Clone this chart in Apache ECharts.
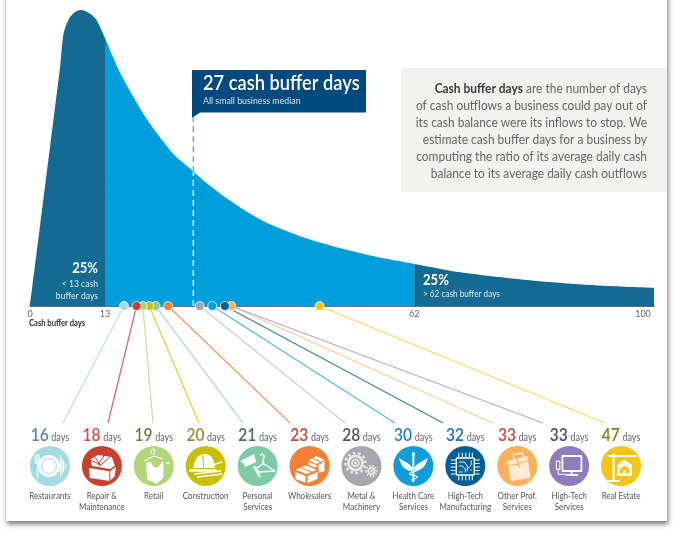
<!DOCTYPE html>
<html>
<head>
<meta charset="utf-8">
<style>html,body{margin:0;padding:0;background:#fff}#main{width:673px;height:533px}</style>
<script src="https://cdn.jsdelivr.net/npm/echarts@6/dist/echarts.min.js"></script>
</head>
<body>
<div id="main"></div>
<script>
// values
var axisStart = 1.11  // the "0" tick sits here, the original axis is squeezed below 13 days
var tickDays = [axisStart, 13, 62, 100]
var tickLabels = ['0', '13', '62', '100']
var lowerQuartile = 13
var upperQuartile = 62
var medianDays = 27

var curveDays = [1.11, 2.7, 4.3, 5.87, 6.34, 6.66, 6.98, 7.45, 7.85, 8.25, 8.7, 9.2, 9.7, 10.15, 10.94, 11.73, 12.37, 13,
  14.27, 15.5, 17.44, 19.5, 21.7, 24, 26.8, 29, 31.2, 35, 38.7, 44, 50.2, 56, 62, 69, 76.7, 84, 92, 100]
var curveHeights = [0, 27, 54, 80.7, 90.9, 93.9, 95.6, 97.6, 98.6, 99.3, 99.8, 100, 99.8, 99.3, 98.3, 96.4, 93.5, 90.5,
  84, 78.3, 70.8, 63.5, 57, 51, 45.8, 41.7, 38, 32.5, 28, 23.5, 19.6, 16.6, 14.2, 11.5, 9.5, 8, 6.8, 6.1]

var industries = ['Restaurants', 'Repair &\nMaintenance', 'Retail', 'Construction', 'Personal\nServices', 'Wholesalers',
  'Metal &\nMachinery', 'Health Care\nServices', 'High-Tech\nManufacturing', 'Other Prof.\nServices', 'High-Tech\nServices', 'Real Estate']
var industryDays = [16, 18, 19, 20, 21, 23, 28, 30, 32, 33, 33, 47]

// styles, same order as the industries
var iconColors = ['#A3DBE0', '#C9402F', '#B1D678', '#C9BF00', '#7FCBA6', '#F77F33', '#A7A8AA', '#0F9DDC', '#005F96', '#FBB05C', '#8E7CBC', '#F5C415']
var leaderColors = ['#B5E2E6', '#D4705F', '#C9E29F', '#DDD43F', '#B4E0CA', '#F79B68', '#CFCFCF', '#58B8E6', '#3C86B2', '#FBCB94', '#B6A9D6', '#F7D862']
var numberColors = ['#4E87A0', '#D0503F', '#6F7A3A', '#A08A3A', '#3F6F63', '#CE4536', '#555555', '#1F7FB8', '#1F6FA8', '#CE4536', '#4A4680', '#8E7A1E']
var leaderEndX = [63, 108, 153, 199, 243, 290, 345, 395, 443, 493, 543, 605]
var leaderEndY = 423

var FONT = 'Lato, "Open Sans", sans-serif'
var DARK = '#136A92', LIGHT = '#009FDB', NAVY = '#004A80'

var curve = curveDays.map(function (d, i) { return [d, curveHeights[i]] })
var medianHeight = 45.2

function region(from, to, color) {
  return {
    type: 'line', data: curve.filter(function (p) { return p[0] >= from && p[0] <= to }),
    showSymbol: false, silent: true, smooth: 0.25, lineStyle: { width: 0 },
    areaStyle: { color: color, opacity: 1 }, itemStyle: { color: color }
  }
}

function dashed(pts, color) {
  return {
    type: 'line', data: pts, showSymbol: false, silent: true, z: 3,
    lineStyle: { color: color, width: 1.5, type: [6, 4] }
  }
}

// condensed look, the original typeface is narrower than anything installed
function note(text, x, y, size, fill, squeeze, extra) {
  var style = { text: text, fill: fill, fontFamily: FONT, fontSize: size }
  for (var k in extra) style[k] = extra[k]
  return { type: 'text', x: x, y: y, z: 6, scaleX: squeeze, style: style }
}

// icon glyphs, drawn in a 40x40 box centred on the circle
function P(d, fill, stroke, w, dash) { return { d: d, fill: fill || 'none', stroke: stroke || 'none', w: w || 0, dash: dash } }
function circ(x, y, r) { return 'M' + (x - r) + ' ' + y + 'a' + r + ' ' + r + ' 0 1 0 ' + (2 * r) + ' 0a' + r + ' ' + r + ' 0 1 0 ' + (-2 * r) + ' 0Z' }
var W = '#fff'
var glyphs = [
  [P(circ(19, 20, 11), W), P(circ(19, 20, 7.5), null, iconColors[0], 1), P('M7.5 19v13M5.5 9v7c0 2 4 2 4 0V9M7.5 9v6', null, W, 1.4),
    P('M30 9l7 11-7 11Z', W), P('M32 12v16M34.5 16v8', null, iconColors[0], .8)],
  [P('M7 22l21 3 6-4-1 9-5 5-20-3Z', W), P('M9 13l7-4 14 2 3 9-5 3-18-3Z', W),
    P('M8 21l20 4v10M13 11l6 9M22 10l-6 9M20 18l9-8M11 15l8 4', null, iconColors[1], 1)],
  [P('M12.7 16.7l4-1 3 5 4 1 5-6 1 1v14l-1 2-6 5-9-4-1-10Z', W), P('M18 7c-2-3 2-5 3-3s-2 3-1 6M11 15l9-5 9 3', null, W, 1.1), P(circ(34, 17, 1.6), W)],
  [P('M8 22c0-8 4-14 11-14s10 6 10 14Z', W), P('M4.5 24.5h25', null, W, 2.6), P('M9 28l26-3M12 31l24-3M27 19l9-3', null, W, 1.6),
    P('M17 9l1 12', null, iconColors[3], 1)],
  [P('M2.5 15l14-7 2 8-11 5-1-3Z', W), P('M17 21l5 9', null, W, 2.4), P('M23 9c2-2 5 1 3 3l-1 5 12 8-15 1-4-3 8-6', null, W, 1.5)],
  [P('M6 24l10-5 11 5-10 4Z M6 26l10 4v7l-10-4Z M18 30l10-4v7l-10 4Z M19 14l8-4 8 4-8 4Z M29 19l6-4v10l-6 2Z M19 16l8 3v3l-8-3Z', W),
    P('M12 22l10 4M23 12l8 4', null, iconColors[5], 1)],
  [P(circ(14, 17, 8.5), '#E8E8E8'), P(circ(14, 17, 10), null, '#E8E8E8', 2.6, [2.6, 2.6]), P(circ(14, 17, 5), null, iconColors[6], 1.3), P(circ(14, 17, 2), null, iconColors[6], 1),
    P(circ(30, 25, 4.2), '#E8E8E8'), P(circ(30, 25, 5.4), null, '#E8E8E8', 1.6, [1.6, 1.6]), P(circ(30, 25, 1.8), null, iconColors[6], .9)],
  [P('M19 9h2v27h-2Z', W), P(circ(20, 8, 1.8), W), P('M18.5 21C15 16 9 15 5.5 11.5 7 18 10 24 18.5 25.5Z M21.5 21C25 16 31 15 34.5 11.5 33 18 30 24 21.5 25.5Z', W),
    P('M14 20c4 3 9 2 12 3-2 3-9 2-10 5 3 2 8 1 8 3-1 2-5 2-6 3', null, W, 1.1)],
  [P('M12 12h16a1 1 0 0 1 1 1v15a1 1 0 0 1-1 1H12a1 1 0 0 1-1-1V13a1 1 0 0 1 1-1Z', null, W, 1.4),
    P('M13.5 7v4M17 7v4M20.5 7v4M24 7v4M27 7v4M13.5 30v4M17 30v4M20.5 30v4M24 30v4M27 30v4M6 14h4M6 17.5h4M6 21h4M6 24.5h4M6 28h4M30 14h4M30 17.5h4M30 21h4M30 24.5h4M30 28h4', null, W, 1),
    P('M14 16h5l3 4v5M26 15v4l-3 3M14 20h3l3 3v3M14 26h3M26 24h-1', null, W, .9)],
  [P('M10 15l20-5 3.5 22L13.5 35Z', '#FFEBD4'), P('M17 13l-1-4 9-2 1.5 4', null, '#FFEBD4', 1.5),
    P('M10.5 20l20-5M20 13l2 8', null, iconColors[9], 1.2)],
  [P('M13.3 10h19v15h-19Z', null, W, 1.8), P('M22.5 25v3.5M17.5 29h10.5', null, W, 1.9), P('M7.3 15h3.4v8.3H7.3Z', null, W, 1.1), P('M9 23.3v5h7', null, W, 1)],
  [P('M7.5 10h27M12.5 8v27M7.5 35h10', null, W, 2.2), P('M16 19l7.5-5.5L31 19v11H16Z', W), P('M19 23l4.5-3.5L28 23v4.5h-9Z', iconColors[11]), P('M22 24h3v3.5h-3Z', W)]
]

var dayLabelRich = { d: { fontFamily: FONT, fontSize: 10.5, fill: '#666', padding: [5, 0, 0, 0] } }
industries.forEach(function (n, i) {
  dayLabelRich['n' + i] = { fontFamily: FONT, fontSize: 18, fontWeight: 600, fill: numberColors[i] }
})

var chart = echarts.init(document.getElementById('main'))

chart.setOption({
  animation: false,
  backgroundColor: '#fff',
  grid: [
    { left: 30, top: 10, width: 624, height: 296 },
    { left: 24, top: 446, width: 623, height: 40 }
  ],
  xAxis: [
    {
      type: 'value', gridIndex: 0, min: axisStart, max: 100, splitLine: { show: false },
      axisLine: { lineStyle: { color: '#3F3F3F', width: 1.5 } },
      axisTick: { show: false },
      axisLabel: {
        customValues: tickDays, color: '#666', fontSize: 9, fontFamily: FONT, margin: 4,
        formatter: function (v) {
          var label = tickLabels[tickDays.indexOf(v)]
          return label === '100' ? '{r|100}' : label
        },
        rich: { r: { color: '#666', fontSize: 9, fontFamily: FONT, padding: [0, 22, 0, 0] } }
      }
    },
    { type: 'category', gridIndex: 1, data: industries, show: false }
  ],
  yAxis: [
    { type: 'value', gridIndex: 0, min: 0, max: 100, show: false },
    { type: 'value', gridIndex: 1, min: 0, max: 1, show: false }
  ],
  series: [
    region(axisStart, lowerQuartile, DARK),
    region(lowerQuartile, upperQuartile, LIGHT),
    region(upperQuartile, 100, DARK),
    dashed([[medianDays, 0], [medianDays, medianHeight]], '#fff'),
    dashed([[medianDays, medianHeight], [medianDays, 63.5]], '#5BAFD6'),
    {
      // leader lines from each dot down to its industry
      type: 'custom', coordinateSystem: 'cartesian2d', silent: true, z: 4,
      clip: false,
      data: industryDays.map(function (d, i) { return [d, i] }),
      renderItem: function (params, api) {
        var s = api.coord([api.value(0), 0])
        var i = api.value(1)
        return {
          type: 'line',
          shape: { x1: s[0], y1: s[1], x2: leaderEndX[i], y2: leaderEndY },
          style: { stroke: leaderColors[i], lineWidth: 1.3 }
        }
      }
    },
    {
      // reversed so the orange 33 sits over the purple one
      type: 'scatter', symbolSize: 9, silent: true, z: 5, clip: false,
      data: industryDays.map(function (d, i) {
        return { value: [d, 0], itemStyle: { color: iconColors[i], opacity: 1, borderColor: 'rgba(255,255,255,.75)', borderWidth: 1 } }
      }).reverse()
    },
    {
      type: 'scatter', xAxisIndex: 1, yAxisIndex: 1, symbolSize: 40, silent: true, z: 2,
      data: industries.map(function (n, i) {
        return { value: [i, 0.5], itemStyle: { color: iconColors[i], opacity: 1 } }
      })
    },
    {
      // glyph, "16 days" above it and the name below, all placed from the category axis
      type: 'custom', xAxisIndex: 1, yAxisIndex: 1, silent: true, z: 3,
      data: industries.map(function (n, i) { return [i, 0.5] }),
      renderItem: function (params, api) {
        var i = params.dataIndex
        var c = api.coord([api.value(0), 0.5])
        var children = glyphs[i].map(function (g) {
          return {
            type: 'path', shape: { pathData: g.d },
            style: { fill: g.fill, stroke: g.stroke, lineWidth: g.w, lineDash: g.dash, lineCap: g.dash ? 'butt' : 'round', lineJoin: 'round' }
          }
        })
        children.push({
          type: 'text', x: 20, y: -11, scaleX: 0.86,
          style: {
            text: '{n' + i + '|' + industryDays[i] + '} {d|days}', rich: dayLabelRich,
            align: 'center', verticalAlign: 'middle', fontFamily: FONT
          }
        })
        children.push({
          type: 'text', x: 20, y: 44, scaleX: 0.8,
          style: {
            text: industries[i], fill: '#555', fontFamily: FONT, fontSize: 10, lineHeight: 11,
            align: 'center', verticalAlign: 'top'
          }
        })
        return { type: 'group', x: c[0] - 20, y: c[1] - 20, children: children }
      }
    }
  ],
  graphic: [
    // card behind everything
    {
      type: 'rect', z: -10, shape: { x: 6, y: -10, width: 661, height: 531 },
      style: { fill: '#fff', shadowBlur: 5, shadowOffsetX: 1, shadowOffsetY: 3, shadowColor: 'rgba(0,0,0,.55)' }
    },
    // definition box
    { type: 'rect', z: -1, shape: { x: 401, y: 68, width: 266, height: 124 }, style: { fill: '#F2F2F0' } },
    note('{b|Cash buffer days} are the number of days\nof cash outflows a business could pay out of\nits cash balance were its inflows to stop. We\nestimate cash buffer days for a business by\ncomputing the ratio of its average daily cash\nbalance to its average daily cash outflows',
      647, 80, 13, '#666', 0.92, {
        align: 'right', lineHeight: 17,
        rich: { b: { fontFamily: FONT, fontWeight: 'bold', fontSize: 13, lineHeight: 17, fill: '#3A3A3A' } }
      }),
    // median callout
    {
      type: 'polygon', z: 5,
      shape: { points: [[192, 70], [366, 70], [366, 112.5], [200, 112.5], [192, 118]] },
      style: { fill: NAVY }
    },
    note('27 cash buffer days', 203, 73, 21, '#fff', 0.87, { fontWeight: 600 }),
    note('All small business median', 203, 96, 10, '#CFE0EE', 0.88),
    // quartile notes
    note('25%', 98, 261, 14.5, '#fff', 0.9, { align: 'right', fontWeight: 'bold' }),
    note('< 13 cash\nbuffer days', 98, 278, 10, '#DCE9F0', 0.86, { align: 'right', lineHeight: 12 }),
    note('25%', 423, 273, 14.5, '#fff', 0.9, { fontWeight: 'bold' }),
    note('> 62 cash buffer days', 423, 289, 10, '#DCE9F0', 0.82),
    note('Cash buffer days', 29, 318, 9.5, '#2E2E2E', 0.8, { fontWeight: 'bold' })
  ]
})
</script>
</body>
</html>
